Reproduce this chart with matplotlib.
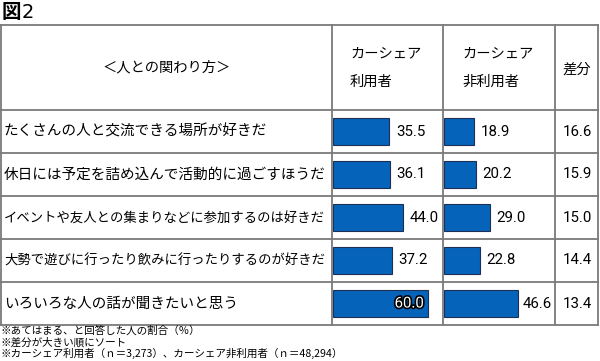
import matplotlib
matplotlib.use("Agg")
import matplotlib.pyplot as plt
import matplotlib.patheffects as pe

plt.rcParams['font.family'] = ['Noto Sans CJK JP', 'DejaVu Sans']

categories = [
    "たくさんの人と交流できる場所が好きだ",
    "休日には予定を詰め込んで活動的に過ごすほうだ",
    "イベントや友人との集まりなどに参加するのは好きだ",
    "大勢で遊びに行ったり飲みに行ったりするのが好きだ",
    "いろいろな人の話が聞きたいと思う",
]
users = [35.5, 36.1, 44.0, 37.2, 60.0]
non_users = [18.9, 20.2, 29.0, 22.8, 46.6]
diffs = [16.6, 15.9, 15.0, 14.4, 13.4]

title_a, title_b = "図", "2"
header_label = "＜人との関わり方＞"
header_users = ["カーシェア", "利用者"]
header_non = ["カーシェア", "非利用者"]
header_diff = "差分"
notes = [
    "※あてはまる、と回答した人の割合（％）",
    "※差分が大きい順にソート",
    "※カーシェア利用者（ｎ＝3,273）、カーシェア非利用者（ｎ＝48,294）",
]

W, H = 600, 361
fig = plt.figure(figsize=(W / 100, H / 100), dpi=100)
ax = fig.add_axes([0, 0, 1, 1])
ax.set_xlim(0, W)
ax.set_ylim(H, 0)
ax.axis('off')

# table geometry (pixels)
top, head_bot, row_h = 25, 110, 43
n = len(categories)
bottom = head_bot + row_h * n
cols = [1, 332, 443, 555, 598]
line_c = '#7a7a7a'

for y in [top, head_bot] + [head_bot + row_h * (i + 1) for i in range(n)]:
    ax.plot([cols[0], cols[-1]], [y, y], color=line_c, lw=1.3, solid_capstyle='projecting')
for x in cols:
    ax.plot([x, x], [top, bottom], color=line_c, lw=1.3)

# title
ax.text(2, 12, title_a, fontsize=14, fontweight='bold', va='center', ha='left')
ax.text(22, 12, title_b, fontsize=14, family='DejaVu Sans', va='center', ha='left')

# header
ax.text((cols[0] + cols[1]) / 2, (top + head_bot) / 2, header_label,
        fontsize=10.3, ha='center', va='center')
ax.text(350, 53, header_users[0], fontsize=10.3, ha='left', va='center')
ax.text(350, 82, header_users[1], fontsize=10.3, ha='left', va='center')
ax.text(462, 53, header_non[0], fontsize=10.3, ha='left', va='center')
ax.text(462, 82, header_non[1], fontsize=10.3, ha='left', va='center')
ax.text((cols[3] + cols[4]) / 2, 70, header_diff, fontsize=10.3, ha='center', va='center')

num_fs = 10.8
num_font = 'Roboto'
# row labels & diffs
for i, (lab, d) in enumerate(zip(categories, diffs)):
    yc = head_bot + row_h * (i + 0.5)
    fs = 10.5 if len(lab) <= 22 else 9.6
    ax.text(4, yc, lab, fontsize=fs, ha='left', va='center')
    ax.text((cols[3] + cols[4]) / 2 + 0.5, yc, f"{d:.1f}", fontsize=num_fs,
            family=num_font, ha='center', va='center')

# notes
for j, t in enumerate(notes):
    ax.text(1, 331 + 11 * j, t, fontsize=7.6, ha='left', va='center')

# bar columns
px_per_unit = 1.585
bar_color = '#0563B9'
edge_color = '#1e2f55'
text_px = 30
for (x0, x1), vals in [((cols[1], cols[2]), users), ((cols[2], cols[3]), non_users)]:
    width_px = x1 - x0 - 1
    bax = fig.add_axes([(x0 + 1) / W, 1 - bottom / H, width_px / W, (bottom - head_bot) / H])
    bax.set_xlim(0, width_px / px_per_unit)
    bax.set_ylim(n, 0)
    bax.axis('off')
    bax.patch.set_alpha(0)
    ys = [i + 0.5 for i in range(n)]
    bax.barh(ys, vals, height=27 / 43, color=bar_color, edgecolor=edge_color, lw=0.8)
    for y, v in zip(ys, vals):
        space = width_px - v * px_per_unit
        if space < text_px + 3:
            bax.annotate(f"{v:.1f}", (v, y), xytext=(-3, 0), textcoords='offset points',
                         ha='right', va='center', fontsize=10.8, color='white',
                         family=num_font,
                         path_effects=[pe.withStroke(linewidth=2.4, foreground='black')])
        else:
            off_px = min(6.5, space - text_px - 2)
            bax.annotate(f"{v:.1f}", (v, y), xytext=(off_px * 0.72, 0), textcoords='offset points',
                         ha='left', va='center', fontsize=num_fs, family=num_font)

fig.savefig('out.png', dpi=100)
